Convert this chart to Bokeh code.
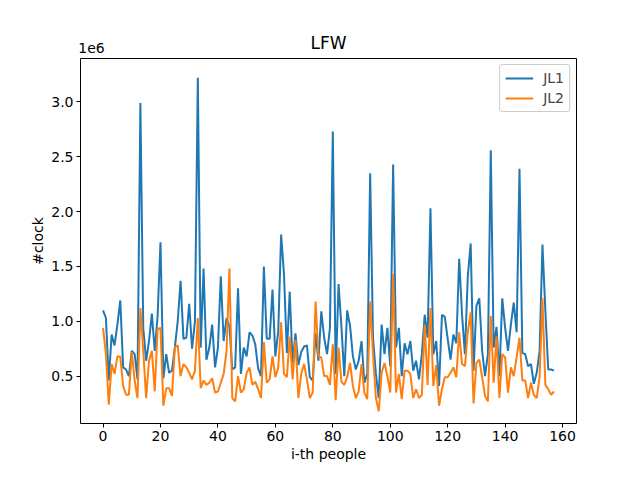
import numpy as np
from bokeh.plotting import figure
from bokeh.models import (Legend, LegendItem, FixedTicker, CustomJSTickFormatter,
                          Range1d, LinearAxis)
from bokeh.embed import file_html
from bokeh.resources import INLINE

# JL1 clock counts (units of 1e6)
jl1 = [1.10, 1.03, 0.46, 0.88, 0.78, 0.97, 1.19, 0.58, 0.56, 0.50,
       0.73, 0.70, 0.47, 2.99, 0.94, 0.64, 0.82, 1.07, 0.73, 1.05,
       1.72, 0.48, 0.70, 0.53, 0.55, 0.76, 1.00, 1.37, 0.84, 0.85,
       1.16, 0.75, 1.00, 3.22, 0.76, 1.48, 0.65, 0.76, 0.97, 0.58,
       0.76, 1.41, 0.82, 1.03, 0.95, 0.56, 0.58, 1.30, 0.52, 0.76,
       0.68, 0.90, 0.87, 0.79, 0.57, 0.50, 1.50, 0.84, 0.84, 1.29,
       0.68, 0.91, 1.79, 1.43, 0.71, 1.27, 0.62, 0.89, 0.60, 0.72,
       0.77, 0.78, 0.49, 0.46, 0.89, 0.64, 1.09, 0.85, 0.70, 0.94,
       2.73, 0.52, 1.34, 0.95, 0.50, 1.10, 0.96, 0.68, 0.56, 0.64,
       0.82, 0.44, 0.52, 2.35, 0.85, 0.52, 0.30, 0.97, 0.70, 0.94,
       0.59, 2.43, 0.76, 0.94, 0.50, 0.80, 0.70, 0.82, 0.55, 0.64,
       0.47, 0.70, 1.06, 0.85, 2.03, 0.70, 0.82, 0.41, 1.06, 1.04,
       0.84, 0.65, 0.88, 0.80, 1.57, 1.06, 0.70, 1.41, 1.71, 0.55,
       1.14, 1.21, 0.73, 0.50, 0.70, 2.56, 0.76, 0.95, 0.50, 1.21,
       0.94, 0.73, 0.97, 1.17, 0.90, 2.39, 0.71, 0.70, 0.59, 0.61,
       0.43, 0.53, 0.73, 1.70, 1.10, 0.56, 0.56, 0.55]

# JL2 clock counts (units of 1e6)
jl2 = [0.94, 0.70, 0.24, 0.61, 0.52, 0.68, 0.68, 0.41, 0.33, 0.33,
       0.72, 0.46, 0.30, 1.12, 0.73, 0.30, 0.64, 0.73, 0.36, 0.93,
       0.94, 0.23, 0.39, 0.39, 0.32, 0.76, 0.78, 0.50, 0.61, 0.58,
       0.53, 0.47, 0.55, 1.03, 0.39, 0.46, 0.42, 0.44, 0.48, 0.35,
       0.36, 0.44, 0.52, 0.73, 1.48, 0.30, 0.27, 0.50, 0.35, 0.38,
       0.53, 0.58, 0.42, 0.45, 0.38, 0.30, 0.81, 0.44, 0.47, 0.68,
       0.49, 0.58, 0.99, 0.52, 0.49, 0.86, 0.47, 0.83, 0.30, 0.52,
       0.61, 0.47, 0.30, 0.35, 1.18, 0.68, 0.67, 0.50, 0.50, 0.42,
       0.79, 0.28, 0.76, 0.45, 0.42, 0.49, 0.62, 0.41, 0.30, 0.36,
       0.61, 0.35, 0.29, 1.18, 0.70, 0.30, 0.18, 0.53, 0.62, 0.50,
       0.35, 1.43, 0.35, 0.52, 0.29, 0.55, 0.55, 0.52, 0.30, 0.38,
       0.30, 0.33, 0.97, 0.42, 1.12, 0.41, 0.60, 0.23, 0.38, 0.49,
       0.49, 0.53, 0.58, 0.49, 0.90, 0.61, 0.59, 0.90, 1.08, 0.25,
       0.62, 0.65, 0.49, 0.32, 0.27, 1.05, 0.44, 0.86, 0.30, 0.70,
       0.67, 0.35, 0.58, 0.50, 0.67, 0.85, 0.46, 0.46, 0.30, 0.44,
       0.33, 0.30, 0.49, 1.21, 0.42, 0.38, 0.33, 0.36]

x_ticks = [0, 20, 40, 60, 80, 100, 120, 140, 160]
y_ticks = [0.5, 1.0, 1.5, 2.0, 2.5, 3.0]
title_text = "LFW"
offset_text = "1e6"

scale = 1e6
idx = np.arange(len(jl1))
y1 = np.array(jl1) * scale
y2 = np.array(jl2) * scale

FONT = "DejaVu Sans"
X0, X1 = -7.85, 164.85
Y0, Y1 = 0.068 * scale, 3.396 * scale

W, H = 624, 464
B_LEFT, B_RIGHT, B_TOP, B_BOTTOM = 80, 48, 58, 40

p = figure(width=W, height=H, output_backend="svg", toolbar_location=None,
           x_range=Range1d(X0, X1),
           y_range=Range1d(Y0, Y1),
           min_border_left=B_LEFT, min_border_right=B_RIGHT,
           min_border_top=B_TOP, min_border_bottom=B_BOTTOM)
p.title = None

p.grid.visible = False
p.outline_line_color = "black"
p.outline_line_width = 1

r1 = p.line(idx, y1, line_color="#1f77b4", line_width=2)
r2 = p.line(idx, y2, line_color="#ff7f0e", line_width=2)

p.xaxis.ticker = FixedTicker(ticks=x_ticks)
p.yaxis.ticker = FixedTicker(ticks=[t * scale for t in y_ticks])
p.yaxis.formatter = CustomJSTickFormatter(code="return (tick/1e6).toFixed(1);")

for ax in (p.xaxis[0], p.yaxis[0]):
    ax.axis_line_color = None
    ax.major_tick_line_color = "black"
    ax.major_tick_in = 0
    ax.major_tick_out = 4
    ax.minor_tick_line_color = None
    ax.major_label_text_font = FONT
    ax.major_label_text_font_size = "14px"
    ax.major_label_text_color = "black"
    ax.axis_label_text_font = FONT
    ax.axis_label_text_font_size = "14px"
    ax.axis_label_text_font_style = "normal"
    ax.axis_label_text_color = "black"
    ax.major_label_standoff = 3
    ax.axis_label_standoff = 2

p.xaxis.axis_label = "i-th people"
p.yaxis.axis_label = "#clock"

# top: offset text "1e6" at the left as a tick label, title as the axis label
top = LinearAxis(ticker=FixedTicker(ticks=[-4]),
                 major_label_overrides={-4: offset_text},
                 axis_label=title_text)
top.axis_line_color = None
top.major_tick_line_color = None
top.minor_tick_line_color = None
top.major_tick_out = 0
top.major_tick_in = 0
top.major_label_standoff = 6
top.major_label_text_font = FONT
top.major_label_text_font_size = "14px"
top.major_label_text_color = "black"
top.axis_label_text_font = FONT
top.axis_label_text_font_size = "17px"
top.axis_label_text_font_style = "normal"
top.axis_label_text_color = "black"
top.axis_label_standoff = -13
p.add_layout(top, "above")

legend = Legend(items=[LegendItem(label="JL1", renderers=[r1]),
                       LegendItem(label="JL2", renderers=[r2])],
                location="top_right")
legend.label_text_font = FONT
legend.label_text_font_size = "14px"
legend.border_line_color = "#cccccc"
legend.border_line_alpha = 1
legend.border_radius = 3
legend.background_fill_alpha = 0.8
legend.glyph_width = 28
legend.glyph_height = 16
legend.label_standoff = 10
legend.spacing = 4
legend.padding = 5
legend.margin = 6
p.add_layout(legend)

open("out.html", "w").write(file_html(p, INLINE))
